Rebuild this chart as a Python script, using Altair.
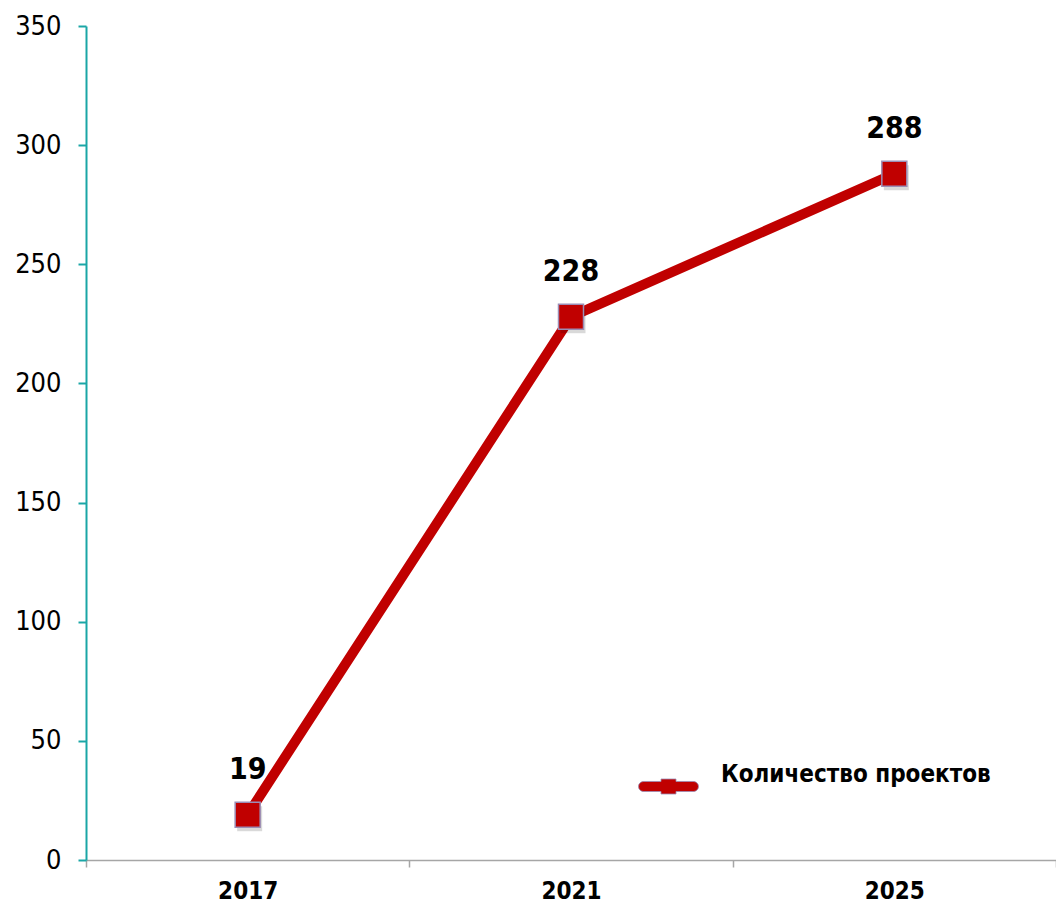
import altair as alt
import pandas as pd

years = ["2017", "2021", "2025"]
values = [19, 228, 288]
series_name = "Количество проектов"
y_ticks = [0, 50, 100, 150, 200, 250, 300, 350]

df = pd.DataFrame({"year": years, "value": values, "series": [series_name] * len(years)})

FONT = "DejaVu Sans Condensed, DejaVu Sans"
RED = "#c00000"
TEAL = "#1aa6a6"

legend_path = ("M-0.833,-0.167 H-0.25 V-0.25 H0.25 V-0.167 H0.833 "
               "A0.167,0.167 0 0 1 0.833,0.167 H0.25 V0.25 H-0.25 V0.167 H-0.833 "
               "A0.167,0.167 0 0 1 -0.833,-0.167 Z")

x = alt.X("year:N", sort=years, title=None,
          scale=alt.Scale(type="band", paddingInner=0, paddingOuter=0),
          axis=alt.Axis(tickBand="extent", labelAngle=0, labelFont=FONT, labelFontSize=24,
                        labelFontWeight="bold", labelColor="black", domainColor="#a6a6a6",
                        domainWidth=1.5, tickColor="#a6a6a6", tickSize=7, tickWidth=1.5,
                        labelPadding=12, grid=False))
y = alt.Y("value:Q", title=None,
          scale=alt.Scale(domain=[0, 350], nice=False, zero=True),
          axis=alt.Axis(values=y_ticks, grid=False, domainColor=TEAL, tickColor=TEAL,
                        domainWidth=2, tickWidth=2, tickSize=8, labelPadding=17,
                        labelFontSize=27, labelFont=FONT, labelColor="black",
                        labelFontWeight="normal"))

base = alt.Chart(df).encode(x=x, y=y)

line = base.mark_line(color=RED, strokeWidth=10)
shadow = base.mark_square(size=625, color="#000000", opacity=0.15, xOffset=2, yOffset=4)
squares = base.mark_square(size=625, filled=True, stroke="#9b8db5", strokeWidth=1.5,
                           opacity=1).encode(
    color=alt.Color("series:N", scale=alt.Scale(domain=[series_name], range=[RED]),
                    legend=alt.Legend(orient="none", legendX=552, legendY=730, title=None,
                                      padding=0, symbolType=legend_path, symbolSize=3600,
                                      symbolStrokeColor="#9b8db5", symbolStrokeWidth=0.8,
                                      symbolOpacity=1,
                                      labelFont=FONT, labelFontSize=24, labelFontWeight="bold",
                                      labelColor="black", labelOffset=22,
                                      labelBaseline="bottom", labelLimit=400))
)
labels = base.mark_text(dy=-45, fontSize=30, fontWeight="bold", font=FONT,
                        color="black").encode(text="value:Q")

chart = alt.layer(line, shadow, squares, labels).properties(
    width=970, height=834,
    autosize=alt.AutoSizeParams(type="none"),
    padding={"left": 86, "top": 26, "right": 0, "bottom": 43},
    background="white",
).configure_view(stroke=None)

chart.save("out.html", embed_options={"renderer": "svg", "actions": False})
